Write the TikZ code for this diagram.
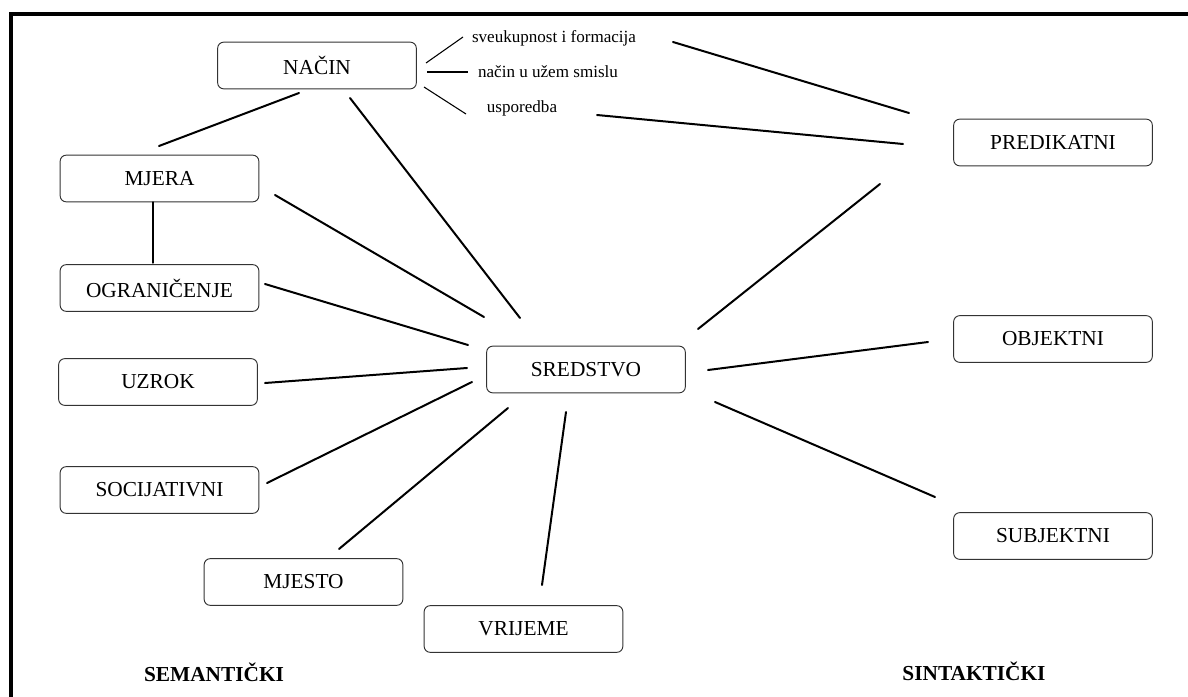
\documentclass[tikz,border=0pt]{standalone}
\usepackage{fontspec}
\setmainfont{Liberation Serif}
\begin{document}
\begin{tikzpicture}[x=0.75pt,y=-0.75pt,
  box/.style={draw=black!80,line width=0.7pt,rounded corners=4.5pt,
    minimum width=149pt,minimum height=35pt,inner sep=0pt,
    font=\fontsize{16}{19}\selectfont},
  sub/.style={inner sep=0pt,font=\fontsize{12.8}{15}\selectfont},
  head/.style={inner sep=0pt,font=\fontsize{16}{19}\selectfont\bfseries},
  link/.style={line width=1.5pt,line cap=round},
  thin/.style={line width=0.8pt}]
\useasboundingbox (0,0) rectangle (1188,696);
% frame
\draw[line width=3.2pt] (11,700) -- (11,14) -- (1192,14);

% boxes
\node[box] (nacin)    at (317,65.5)  {NAČIN};
\node[box] (mjera)    at (159.5,178.5) {MJERA};
\node[box] (ogr)      at (159.5,288) {OGRANIČENJE};
\node[box] (uzrok)    at (158,382)   {UZROK};
\node[box] (soc)      at (159.5,490) {SOCIJATIVNI};
\node[box] (mjesto)   at (303.5,582) {MJESTO};
\node[box] (vrijeme)  at (523.5,629) {VRIJEME};
\node[box] (sredstvo) at (586,369.5) {SREDSTVO};
\node[box] (pred)     at (1053,142.5) {PREDIKATNI};
\node[box] (obj)      at (1053,339)  {OBJEKTNI};
\node[box] (subj)     at (1053,536)  {SUBJEKTNI};

% sub-types of NAČIN
\node[sub] (sveuk) at (554,38)  {sveukupnost i formacija};
\node[sub] (usmis) at (548,72)  {način u užem smislu};
\node[sub] (uspor) at (522,108) {usporedba};

% headings
\node[head] (sem) at (214,672) {SEMANTIČKI};
\node[head] (sin) at (974,671) {SINTAKTIČKI};

% connector ends
\coordinate (nm1) at (299,93);   \coordinate (nm2) at (159,146);
\coordinate (ns1) at (350,98);   \coordinate (ns2) at (520,318);
\coordinate (mo1) at (153,202);  \coordinate (mo2) at (153,263);
\coordinate (ms1) at (275,195);  \coordinate (ms2) at (484,317);
\coordinate (os1) at (265,284);  \coordinate (os2) at (468,345);
\coordinate (us1) at (265,383);  \coordinate (us2) at (467,368);
\coordinate (ss1) at (267,483);  \coordinate (ss2) at (472,382);
\coordinate (js1) at (339,549);  \coordinate (js2) at (508,408);
\coordinate (vs1) at (542,585);  \coordinate (vs2) at (566,412);
\coordinate (sp1) at (698,329);  \coordinate (sp2) at (880,184);
\coordinate (so1) at (708,370);  \coordinate (so2) at (928,342);
\coordinate (sb1) at (715,402);  \coordinate (sb2) at (935,497);
\coordinate (nv1) at (426,63);   \coordinate (nv2) at (463,37);
\coordinate (nu1) at (427,72);   \coordinate (nu2) at (468,72);
\coordinate (np1) at (424,87);   \coordinate (np2) at (466,114);
\coordinate (vp1) at (673,42);   \coordinate (vp2) at (909,113);
\coordinate (pp1) at (597,115);  \coordinate (pp2) at (903,144);

% connectors
\draw[link] (nm1) -- (nm2);
\draw[link] (ns1) -- (ns2);
\draw[link,line width=1pt] (mo1) -- (mo2);
\draw[link] (ms1) -- (ms2);
\draw[link] (os1) -- (os2);
\draw[link] (us1) -- (us2);
\draw[link] (ss1) -- (ss2);
\draw[link] (js1) -- (js2);
\draw[link] (vs1) -- (vs2);
\draw[link] (sp1) -- (sp2);
\draw[link] (so1) -- (so2);
\draw[link] (sb1) -- (sb2);
\draw[thin] (nv1) -- (nv2);
\draw[thin] (nu1) -- (nu2);
\draw[thin] (np1) -- (np2);
\draw[link] (vp1) -- (vp2);
\draw[link] (pp1) -- (pp2);
\end{tikzpicture}
\end{document}
